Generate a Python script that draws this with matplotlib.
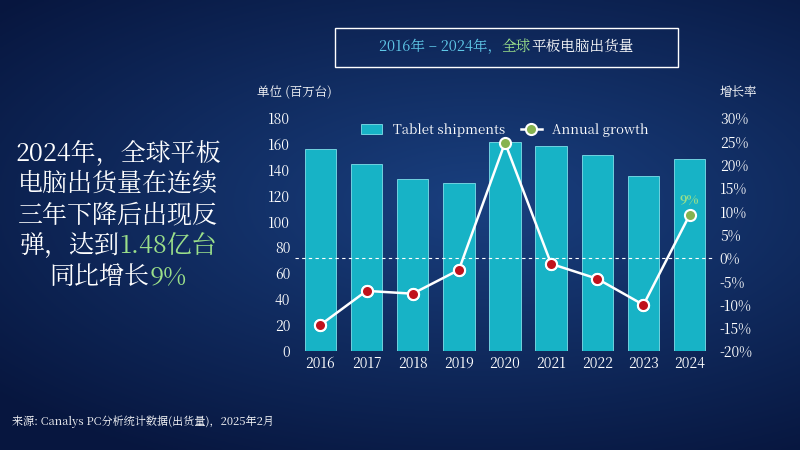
import numpy as np
import matplotlib
matplotlib.use("Agg")
import matplotlib.pyplot as plt
from matplotlib import font_manager
from matplotlib.patches import Rectangle

cjk = [f.name for f in font_manager.fontManager.ttflist if "CJK" in f.name]
cjk_name = next((n for n in cjk if "SC" in n), cjk[0] if cjk else "DejaVu Sans")
plt.rcParams["font.family"] = [cjk_name, "DejaVu Sans"]

years = ["2016", "2017", "2018", "2019", "2020", "2021", "2022", "2023", "2024"]
shipments = [156, 144.5, 133, 130, 161.5, 158, 151.5, 135, 148]
growth = [-14.4, -7.1, -7.7, -2.6, 24.7, -1.3, -4.5, -10.1, 9.2]

fig = plt.figure(figsize=(8, 4.5), dpi=100)

# background gradient
bg = fig.add_axes([0, 0, 1, 1])
yy, xx = np.mgrid[0:1:200j, 0:1:360j]
d = np.sqrt(((xx - 0.6) / 1.0) ** 2 + ((yy - 0.45) / 0.8) ** 2)
c0 = np.array([0.10, 0.25, 0.50])
c1 = np.array([0.03, 0.09, 0.25])
t = np.clip(d / 0.8, 0, 1)[..., None]
bg.imshow(c0 * (1 - t) + c1 * t, aspect="auto", extent=[0, 1, 0, 1])
bg.set_xlim(0, 1)
bg.set_ylim(0, 1)
bg.axis("off")


def colored_line(parts, x_center, y, size):
    # draw a line of text made of (string, colour) parts, centred at x_center
    r = fig.canvas.get_renderer()
    widths = []
    for s, c in parts:
        tt = bg.text(0, 0, s, fontsize=size, transform=bg.transAxes)
        widths.append(tt.get_window_extent(renderer=r).width / 800)
        tt.remove()
    x = x_center - sum(widths) / 2
    for (s, c), w in zip(parts, widths):
        bg.text(x, y, s, color=c, fontsize=size, ha="left", va="center", transform=bg.transAxes)
        x += w


fig.canvas.draw()

# title box
bg.add_patch(Rectangle((335 / 800, 1 - 67 / 450), 343 / 800, 39 / 450,
                       fill=False, edgecolor="white", lw=1.0, transform=bg.transAxes))
colored_line([("2016年 – 2024年，", "#5fc8e8"), ("全球", "#9be08a"), ("平板电脑出货量", "white")],
             506 / 800, 1 - 47 / 450, 10.5)

# left headline
lines = [[("2024年，全球平板", "white")],
         [("电脑出货量在连续", "white")],
         [("三年下降后出现反", "white")],
         [("弹，达到", "white"), ("1.48亿台", "#9be08a")],
         [("同比增长", "white"), ("9%", "#9be08a")]]
for i, parts in enumerate(lines):
    colored_line(parts, 118 / 800, 1 - (153 + 31 * i) / 450, 18)

bg.text(12 / 800, 1 - 422 / 450, "来源: Canalys PC分析统计数据(出货量)，2025年2月",
        color="white", fontsize=8, ha="left", va="center", transform=bg.transAxes)

# chart
ax = fig.add_axes([295 / 800, 99 / 450, 420 / 800, 233 / 450])
ax.set_facecolor("none")
x = np.arange(len(years))
bars = ax.bar(x, shipments, width=0.68, color="#17b3c6", edgecolor="#7fe0ea", lw=0.6,
              label="Tablet shipments", zorder=2)
ax.set_ylim(0, 180)
ax.set_yticks(range(0, 181, 20))
ax.set_xlim(-0.55, len(years) - 0.45)
ax.set_xticks(x)
ax.set_xticklabels(years)
ax.tick_params(colors="white", labelsize=10, length=0)
for s in ax.spines.values():
    s.set_visible(False)

ax2 = ax.twinx()
ax2.set_ylim(-20, 30)
ax2.set_yticks(range(-20, 31, 5))
ax2.set_yticklabels([f"{v}%" for v in range(-20, 31, 5)])
ax2.tick_params(colors="white", labelsize=10, length=0)
for s in ax2.spines.values():
    s.set_visible(False)
ax2.axhline(0, color="white", ls=(0, (3, 3)), lw=0.8)
line, = ax2.plot(x, growth, color="white", lw=1.8, marker="o", ms=8,
                 markerfacecolor="#86b34f", markeredgecolor="white", markeredgewidth=1.5,
                 label="Annual growth", zorder=3)
neg = [i for i, g in enumerate(growth) if g < 0]
ax2.scatter([x[i] for i in neg], [growth[i] for i in neg], s=64, c="#c0121c",
            edgecolors="white", linewidths=1.5, zorder=4)
ax2.text(x[-1], growth[-1] + 3.3, "9%", color="#9be08a", fontsize=9, fontweight="bold",
         ha="center", va="center")

ax2.legend([bars, line], ["Tablet shipments", "Annual growth"], loc="upper center",
           ncol=2, frameon=False, fontsize=9.5, labelcolor="white",
           bbox_to_anchor=(0.5, 1.03), handlelength=1.6, columnspacing=1.2)

bg.text(257 / 800, 1 - 92 / 450, "单位 (百万台)", color="white", fontsize=9,
        ha="left", va="center", transform=bg.transAxes)
bg.text(720 / 800, 1 - 92 / 450, "增长率", color="white", fontsize=9,
        ha="left", va="center", transform=bg.transAxes)

fig.savefig("out.png", dpi=100)
